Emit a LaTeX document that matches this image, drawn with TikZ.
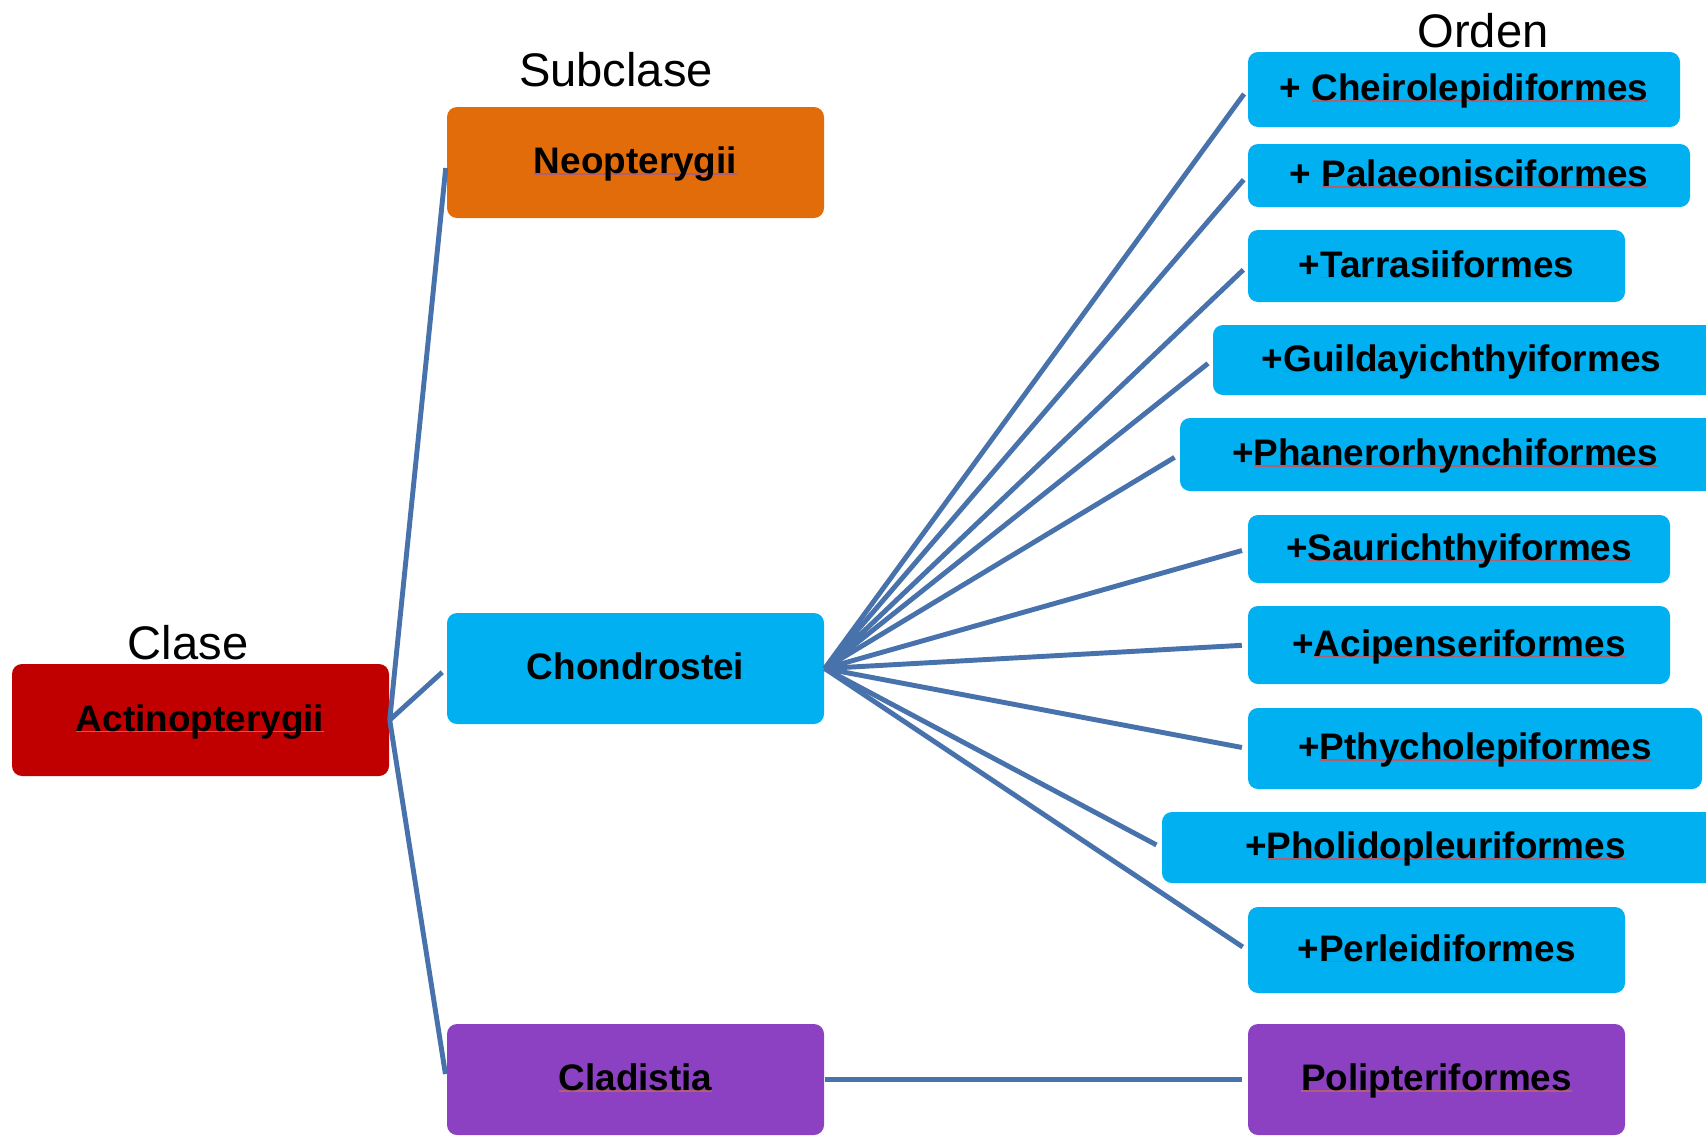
\documentclass[tikz,border=0pt]{standalone}
\usepackage{fontspec}
\setmainfont{Liberation Sans}

\definecolor{clsred}{HTML}{C00000}
\definecolor{subor}{HTML}{E36C0A}
\definecolor{ordblue}{HTML}{00B0F0}
\definecolor{cladpurple}{HTML}{8C41C2}
\definecolor{linkblue}{HTML}{4872AC}
\definecolor{spellline}{HTML}{B06070}

% thin faint underline under the taxon names
\newsavebox\splbox
\newcommand\spl[1]{\sbox\splbox{#1}%
  \rlap{\textcolor{spellline}{\rule[-0.3pt]{\wd\splbox}{0.35pt}}}\usebox\splbox}

% #1 name, #2 fill style, #3-#6 left/top/right/bottom, #7 text centre x, #8 text
\newcommand\taxon[8]{%
  \node[box,#2,minimum width={(#5-#3)*0.01cm},minimum height={(#6-#4)*0.01cm}]
    (#1) at ({(#3+#5)/2},{(#4+#6)/2}) {};
  \node[boxtext] (#1-t) at (#7,{(#4+#6)/2}) {#8};}

\begin{document}
\begin{tikzpicture}[x=0.01cm,y=-0.01cm,
  box/.style={rectangle,rounded corners=0.1cm,inner sep=0pt,draw=none},
  red/.style={fill=clsred},
  orange/.style={fill=subor},
  blue/.style={fill=ordblue},
  purple/.style={fill=cladpurple},
  boxtext/.style={font=\bfseries\fontsize{10.5pt}{12.6pt}\selectfont,
    text height=0.26cm,text depth=0.04cm,inner sep=0pt},
  head/.style={font=\fontsize{13.4pt}{16pt}\selectfont,anchor=base,inner sep=0pt},
  link/.style={draw=linkblue,line width=1.4pt,shorten >=0.055cm}]

\useasboundingbox (0,0) rectangle (1706,1136);
\clip (0,0) rectangle (1706,1136);

% rank headings
\node[head] (clase) at (188,659) {Clase};
\node[head] (subclase) at (616,86) {Subclase};
\node[head] (orden) at (1483,47) {Orden};

% class and subclasses
\taxon{act}{red}{12}{664}{389}{776}{200}{\spl{Actinopterygii}}
\taxon{neo}{orange}{447}{107}{824}{218}{635.5}{\spl{Neopterygii}}
\taxon{cho}{blue}{447}{613}{824}{724}{635.5}{Chondrostei}
\taxon{cla}{purple}{447}{1024}{824}{1135}{635.5}{\spl{Cladistia}}

% orders
\taxon{o1}{blue}{1248}{52}{1680}{127}{1464}{+ \spl{Cheirolepidiformes}}
\taxon{o2}{blue}{1248}{144}{1690}{207}{1469}{+ \spl{Palaeonisciformes}}
\taxon{o3}{blue}{1248}{230}{1625}{302}{1436.5}{+\spl{Tarrasiiformes}}
\taxon{o4}{blue}{1213}{325}{1716}{395}{1461.5}{+\spl{Guildayichthyiformes}}
\taxon{o5}{blue}{1180}{418}{1716}{491}{1445}{+\spl{Phanerorhynchiformes}}
\taxon{o6}{blue}{1248}{515}{1670}{583}{1459}{+\spl{Saurichthyiformes}}
\taxon{o7}{blue}{1248}{606}{1670}{684}{1459}{+\spl{Acipenseriformes}}
\taxon{o8}{blue}{1248}{708}{1702}{789}{1475}{+\spl{Pthycholepiformes}}
\taxon{o9}{blue}{1162}{812}{1716}{883}{1435.5}{+\spl{Pholidopleuriformes}}
\taxon{o10}{blue}{1248}{907}{1625}{993}{1436.5}{+\spl{Perleidiformes}}
\taxon{pol}{purple}{1248}{1024}{1625}{1135}{1436.5}{\spl{Polipteriformes}}

% class to subclasses
\draw[link] (act.east) -- (neo.west);
\draw[link] (act.east) -- (cho.west);
\draw[link] (act.east) -- (cla.west);

% Chondrostei fan
\foreach \o in {o1,o2,o3,o4,o5,o6,o7,o8,o9,o10}
  \draw[link] (cho.east) -- (\o.west);

% Cladistia to its order
\draw[link] (cla.east) -- (pol.west);
\end{tikzpicture}
\end{document}
